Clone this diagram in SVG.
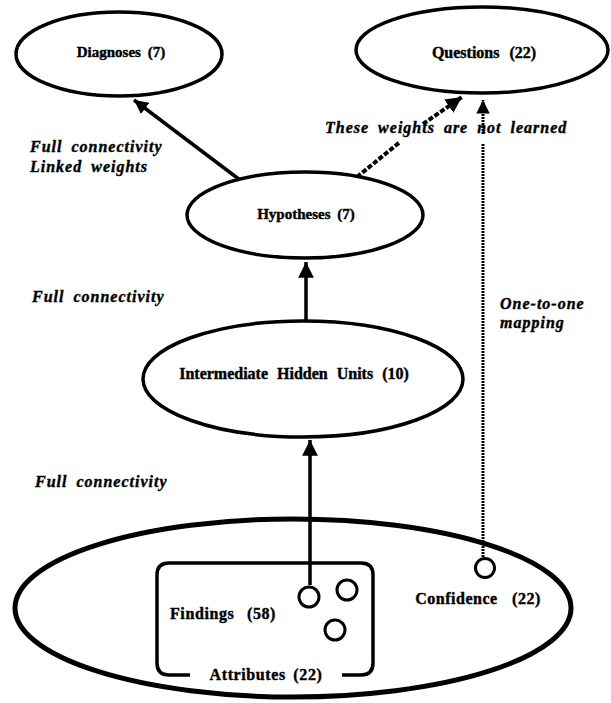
<svg xmlns="http://www.w3.org/2000/svg" width="611" height="703" viewBox="0 0 611 703">
<style>
.node{fill:#fff;stroke:#000;stroke-width:3.5}
.lbl{font-family:"Liberation Serif","Times New Roman",serif;font-weight:bold;font-size:16px;fill:#000;stroke:#000;stroke-width:0.4;text-anchor:middle;dominant-baseline:central;word-spacing:3px}
.note{font-family:"Liberation Serif","Times New Roman",serif;font-weight:bold;font-style:italic;font-size:16px;fill:#000;stroke:#000;stroke-width:0.4;letter-spacing:1px;word-spacing:4px}
.unit{fill:#fff;stroke:#000;stroke-width:3}
.solid{stroke:#000;fill:none;stroke-width:3.5}
.dash{stroke:#000;fill:none;stroke-width:4;stroke-dasharray:5 2}
.dot{stroke:#000;fill:none;stroke-width:3;stroke-dasharray:2 1}
</style>
<defs>
<marker id="ah" viewBox="0 0 10 10" refX="10" refY="5" markerWidth="4" markerHeight="4" orient="auto" markerUnits="strokeWidth">
<path d="M0,0 L10,5 L0,10 z" fill="#000"/>
</marker>
<marker id="ah2" viewBox="0 0 10 10" refX="10" refY="5" markerWidth="5" markerHeight="4.5" orient="auto" markerUnits="strokeWidth">
<path d="M0,0 L10,5 L0,10 z" fill="#000"/>
</marker>
</defs>

<g id="input-layer">
<ellipse cx="293" cy="608" rx="278" ry="89" fill="#fff" stroke="#000" stroke-width="5"/>
</g>

<g id="attributes">
<path d="M190,675 H169 Q157,675 157,663 V575 Q157,563 169,563 H361 Q373,563 373,575 V663 Q373,675 361,675 H342" fill="none" stroke="#000" stroke-width="3.5"/>
<text class="lbl" x="266" y="674" style="letter-spacing:0.6px">Attributes (22)</text>
</g>

<g id="findings">
<text class="lbl" x="223" y="613" style="word-spacing:8px;letter-spacing:0.6px">Findings (58)</text>
<circle class="unit" cx="309" cy="597" r="10"/>
<circle class="unit" cx="347" cy="590" r="10"/>
<circle class="unit" cx="335" cy="630" r="10"/>
</g>

<g id="confidence">
<circle class="unit" cx="485" cy="568" r="9.5"/>
<text class="lbl" x="478" y="598" style="word-spacing:10px;letter-spacing:0.5px">Confidence (22)</text>
</g>

<g id="diagnoses">
<ellipse class="node" cx="119" cy="54" rx="103" ry="42"/>
<text class="lbl" x="121" y="52" style="font-size:15px">Diagnoses (7)</text>
</g>

<g id="questions">
<ellipse class="node" cx="482" cy="50" rx="126" ry="43"/>
<text class="lbl" x="484" y="52" style="word-spacing:6px">Questions (22)</text>
</g>

<g id="hypotheses">
<ellipse class="node" cx="305" cy="215" rx="118" ry="43"/>
<text class="lbl" x="306" y="214" style="font-size:15px">Hypotheses (7)</text>
</g>

<g id="hidden">
<ellipse class="node" cx="303" cy="379" rx="160" ry="58"/>
<text class="lbl" x="294" y="373" style="word-spacing:5px">Intermediate Hidden Units (10)</text>
</g>

<g id="connectors">
<line class="solid" x1="240" y1="180" x2="134" y2="100" stroke-width="4.5" marker-end="url(#ah)"/>
<line class="solid" x1="306" y1="322" x2="306" y2="262" marker-end="url(#ah2)"/>
<line class="solid" x1="310" y1="585" x2="310" y2="440" marker-end="url(#ah2)"/>
<path class="dash" d="M357,177 L400,142"/>
<path class="dash" d="M423,124 L462,97" marker-end="url(#ah)"/>
<path class="dot" d="M483,557 V143"/>
<path class="dot" d="M483,134 V100" marker-end="url(#ah2)"/>
</g>

<g id="labels">
<text class="note" x="30" y="152">Full connectivity</text>
<text class="note" x="30" y="172">Linked weights</text>
<text class="note" x="325" y="133">These weights are not learned</text>
<text class="note" x="32" y="302">Full connectivity</text>
<text class="note" x="500" y="309">One-to-one</text>
<text class="note" x="500" y="328">mapping</text>
<text class="note" x="35" y="487">Full connectivity</text>
</g>
</svg>
